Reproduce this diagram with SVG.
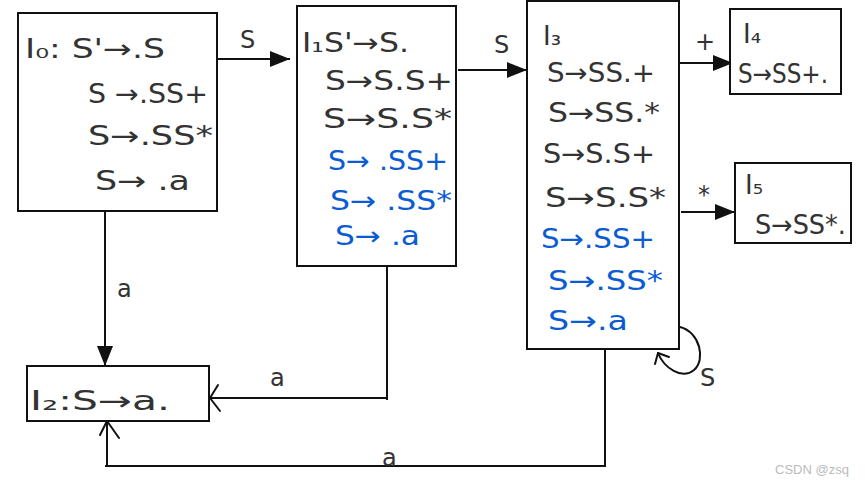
<svg xmlns="http://www.w3.org/2000/svg" width="865" height="485" viewBox="0 0 865 485">
<style>
.box{fill:#fff;stroke:#111;stroke-width:2}
.t{font-family:"DejaVu Sans","Liberation Sans",sans-serif;font-size:26px;fill:#333}
.b{fill:#0b5bd3}
.lbl{font-family:"DejaVu Sans","Liberation Sans",sans-serif;font-size:24px;fill:#333}
.ln{fill:none;stroke:#111;stroke-width:2}
.open{fill:none;stroke:#111;stroke-width:2;stroke-linecap:round;stroke-linejoin:round}
.wm{font-family:"Liberation Sans","DejaVu Sans",sans-serif;font-size:13px;fill:#bbb}
</style>
<defs>
<marker id="triL" viewBox="0 0 20 16" refX="20" refY="8" markerWidth="20" markerHeight="16" markerUnits="userSpaceOnUse" orient="auto">
<path d="M0,0 L20,8 L0,16 Z" fill="#111"/>
</marker>
</defs>
<rect width="865" height="485" fill="#fff"/>

<g id="connectors">
<line class="ln" x1="217" y1="59" x2="290" y2="59" marker-end="url(#triL)"/>
<text class="lbl" x="240" y="48">S</text>
<line class="ln" x1="458" y1="70" x2="527" y2="70" marker-end="url(#triL)"/>
<text class="lbl" x="494" y="53">S</text>
<line class="ln" x1="680" y1="63" x2="733" y2="63" marker-end="url(#triL)"/>
<text class="lbl" x="695" y="50">+</text>
<line class="ln" x1="681" y1="212" x2="735" y2="212" marker-end="url(#triL)"/>
<text class="lbl" x="698" y="203">*</text>
<line class="ln" x1="105" y1="211" x2="105" y2="366" marker-end="url(#triL)"/>
<text class="lbl" x="117" y="297">a</text>
<polyline class="ln" points="387,266 387,400"/>
<polyline class="ln" points="387,398 210,398"/>
<polyline class="open" points="218,385 210,398 220,411"/>
<text class="lbl" x="270" y="386">a</text>
<polyline class="ln" points="605,349 605,466 105,466"/>
<line class="ln" x1="107" y1="466" x2="107" y2="421"/>
<polyline class="open" points="100,435 107,421 119,438"/>
<text class="lbl" x="382" y="466">a</text>
<path class="open" d="M680,327 C700,332 706,360 694,370 C682,380 664,368 658,353"/>
<polyline class="open" points="655,364 658,353 669,357"/>
<text class="lbl" x="700" y="386">S</text>
</g>

<g id="I0">
<rect class="box" x="18" y="13" width="199" height="198"/>
<text class="t" x="25" y="58" textLength="140" lengthAdjust="spacingAndGlyphs">I₀: S'→.S</text>
<text class="t" x="88" y="103" textLength="120" lengthAdjust="spacingAndGlyphs">S →.SS+</text>
<text class="t" x="88" y="145" textLength="125" lengthAdjust="spacingAndGlyphs">S→.SS*</text>
<text class="t" x="95" y="190" textLength="95" lengthAdjust="spacingAndGlyphs">S→ .a</text>
</g>

<g id="I1">
<rect class="box" x="297" y="6" width="159" height="260"/>
<text class="t" x="302" y="52" textLength="107" lengthAdjust="spacingAndGlyphs">I₁S'→S.</text>
<text class="t" x="325" y="90" textLength="128" lengthAdjust="spacingAndGlyphs">S→S.S+</text>
<text class="t" x="323" y="128" textLength="129" lengthAdjust="spacingAndGlyphs">S→S.S*</text>
<text class="t b" x="328" y="170" textLength="120" lengthAdjust="spacingAndGlyphs">S→ .SS+</text>
<text class="t b" x="330" y="210" textLength="122" lengthAdjust="spacingAndGlyphs">S→ .SS*</text>
<text class="t b" x="335" y="245" textLength="85" lengthAdjust="spacingAndGlyphs">S→ .a</text>
</g>

<g id="I3">
<rect class="box" x="527" y="1" width="152" height="348"/>
<text class="t" x="543" y="45">I₃</text>
<text class="t" x="547" y="82" textLength="108" lengthAdjust="spacingAndGlyphs">S→SS.+</text>
<text class="t" x="548" y="122" textLength="112" lengthAdjust="spacingAndGlyphs">S→SS.*</text>
<text class="t" x="543" y="163" textLength="112" lengthAdjust="spacingAndGlyphs">S→S.S+</text>
<text class="t" x="545" y="207" textLength="121" lengthAdjust="spacingAndGlyphs">S→S.S*</text>
<text class="t b" x="541" y="248" textLength="114" lengthAdjust="spacingAndGlyphs">S→.SS+</text>
<text class="t b" x="548" y="290" textLength="115" lengthAdjust="spacingAndGlyphs">S→.SS*</text>
<text class="t b" x="548" y="330" textLength="80" lengthAdjust="spacingAndGlyphs">S→.a</text>
</g>

<g id="I4">
<rect class="box" x="730" y="9" width="111" height="85"/>
<text class="t" x="743" y="43">I₄</text>
<text class="t" x="738" y="83" textLength="90" lengthAdjust="spacingAndGlyphs">S→SS+.</text>
</g>

<g id="I5">
<rect class="box" x="735" y="163" width="116" height="80"/>
<text class="t" x="745" y="194">I₅</text>
<text class="t" x="755" y="234" textLength="91" lengthAdjust="spacingAndGlyphs">S→SS*.</text>
</g>

<g id="I2">
<rect class="box" x="27" y="366" width="182" height="55"/>
<text class="t" x="30" y="410" textLength="140" lengthAdjust="spacingAndGlyphs">I₂:S→a.</text>
</g>

<text class="wm" x="775" y="474">CSDN @zsq</text>
</svg>
